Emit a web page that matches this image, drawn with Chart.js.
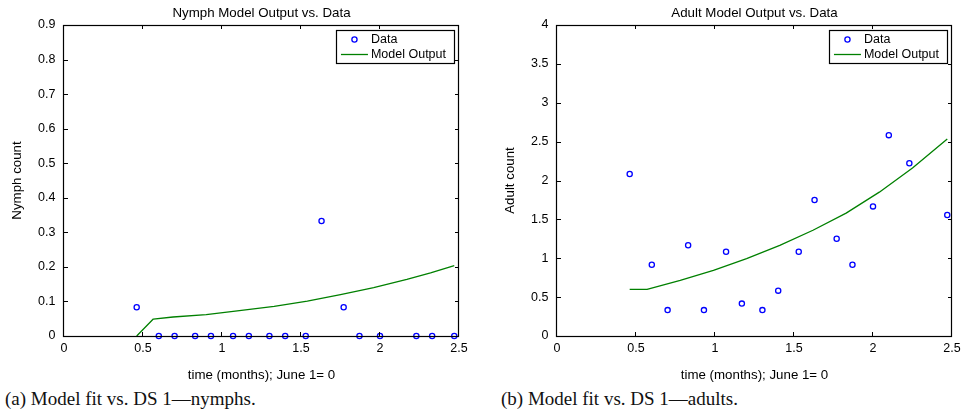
<!DOCTYPE html>
<html>
<head>
<meta charset="utf-8">
<script src="https://cdn.jsdelivr.net/npm/chart.js@4/dist/chart.umd.min.js"></script>
<style>
  html, body { margin: 0; padding: 0; background: #fff; }
  #page { position: relative; width: 965px; height: 417px; overflow: hidden; background: #fff; }
  canvas { position: absolute; top: 0; }
  #c1 { left: 0; }
  #c2 { left: 493px; }
  .cap { position: absolute; top: 388px; font-family: "Liberation Serif", "Times New Roman", serif; font-size: 19px; color: #111; white-space: nowrap; }
</style>
</head>
<body>
<div id="page">
  <canvas id="c1" width="480" height="383"></canvas>
  <canvas id="c2" width="480" height="383"></canvas>
  <div class="cap" style="left:5px">(a) Model fit vs. DS 1—nymphs.</div>
  <div class="cap" style="left:501px">(b) Model fit vs. DS 1—adults.</div>
</div>
<script>
// ---- data ----
const nymphTimes   = [0.46, 0.60, 0.70, 0.83, 0.93, 1.07, 1.17, 1.30, 1.40, 1.53, 1.63, 1.77, 1.87, 2.00, 2.23, 2.33, 2.47];
const nymphCounts  = [0.083, 0, 0, 0, 0, 0, 0, 0, 0, 0, 0.333, 0.083, 0, 0, 0, 0, 0];
const nymphModelT  = [0.46, 0.565, 0.69, 0.90, 1.11, 1.33, 1.54, 1.75, 1.96, 2.17, 2.32, 2.47];
const nymphModelV  = [0, 0.049, 0.055, 0.062, 0.0735, 0.086, 0.101, 0.12, 0.14, 0.164, 0.183, 0.204];

const adultTimes   = [0.46, 0.60, 0.70, 0.83, 0.93, 1.07, 1.17, 1.30, 1.40, 1.53, 1.63, 1.77, 1.87, 2.00, 2.10, 2.23, 2.47];
const adultCounts  = [2.083, 0.917, 0.333, 1.167, 0.333, 1.083, 0.417, 0.333, 0.583, 1.083, 1.75, 1.25, 0.917, 1.667, 2.583, 2.222, 1.556];
const adultModelT  = [0.46, 0.57, 0.78, 0.99, 1.20, 1.41, 1.62, 1.83, 2.04, 2.25, 2.47];
const adultModelV  = [0.6, 0.6, 0.715, 0.844, 0.994, 1.165, 1.36, 1.58, 1.85, 2.16, 2.535];

const xTickValues      = [0, 0.5, 1, 1.5, 2, 2.5];
const nymphYTickValues = [0, 0.1, 0.2, 0.3, 0.4, 0.5, 0.6, 0.7, 0.8, 0.9];
const adultYTickValues = [0, 0.5, 1, 1.5, 2, 2.5, 3, 3.5, 4];

const seriesLabels = ['Data', 'Model Output'];
const xAxisTitle = 'time (months); June 1= 0';
// ---------------------------------------

const FONT = '"Liberation Sans", Arial, Helvetica, sans-serif';

const framePlugin = {
  id: 'frame',
  afterDatasetsDraw(chart, args, opts) {
    const { ctx, chartArea: a, scales: { x, y } } = chart;
    ctx.save();
    ctx.strokeStyle = '#000';
    ctx.lineWidth = 1.2;
    ctx.strokeRect(a.left - 0.5, a.top + 0.5, a.right - a.left, a.bottom - a.top);
    const tl = 4;
    ctx.lineWidth = 1;
    ctx.beginPath();
    x.ticks.forEach(t => {
      const px = Math.round(x.getPixelForValue(t.value)) - 0.5;
      ctx.moveTo(px, a.bottom); ctx.lineTo(px, a.bottom - tl);
      ctx.moveTo(px, a.top); ctx.lineTo(px, a.top + tl);
    });
    y.ticks.forEach(t => {
      const py = Math.round(y.getPixelForValue(t.value)) + 0.5;
      ctx.moveTo(a.left, py); ctx.lineTo(a.left + tl, py);
      ctx.moveTo(a.right, py); ctx.lineTo(a.right - tl, py);
    });
    ctx.stroke();

    // title centred over the plot area
    ctx.fillStyle = '#000';
    ctx.font = '13.3px ' + FONT;
    ctx.textAlign = 'center';
    ctx.textBaseline = 'middle';
    ctx.fillText(opts.title, (a.left + a.right) / 2, a.top - 12);

    // legend box, top-right inside plot area
    ctx.font = '12.5px ' + FONT;
    const ds = chart.data.datasets;
    const tw = Math.max(...ds.map(d => ctx.measureText(d.label).width));
    const bw = 6 + 28 + 4 + tw + 5;
    const bh = 33;
    const bx = a.right - 5 - bw;
    const by = a.top + 5;
    ctx.fillStyle = '#fff';
    ctx.fillRect(bx, by, bw, bh);
    ctx.strokeStyle = '#000';
    ctx.lineWidth = 1.2;
    ctx.strokeRect(Math.round(bx) + 0.5, Math.round(by) + 0.5, Math.round(bw), bh);
    ds.forEach((d, i) => {
      const cy = by + 9.5 + i * 15;
      const sx = bx + 5, ex = bx + 32;
      if (d.showLine === false) {
        ctx.beginPath();
        ctx.strokeStyle = d.borderColor;
        ctx.lineWidth = d.borderWidth;
        ctx.arc((sx + ex) / 2, cy, d.pointRadius, 0, Math.PI * 2);
        ctx.stroke();
      } else {
        ctx.beginPath();
        ctx.strokeStyle = d.borderColor;
        ctx.lineWidth = d.borderWidth;
        ctx.moveTo(sx, cy); ctx.lineTo(ex, cy);
        ctx.stroke();
      }
      ctx.fillStyle = '#000';
      ctx.textAlign = 'left';
      ctx.fillText(d.label, ex + 3, cy + 0.5);
    });
    ctx.restore();
  }
};

function makeChart(id, title, yTitle, times, counts, modelT, modelV, yTicks) {
  const yMax = yTicks[yTicks.length - 1];
  return new Chart(document.getElementById(id), {
    type: 'scatter',
    data: {
      datasets: [
        {
          label: seriesLabels[0],
          data: times.map((t, i) => ({ x: t, y: counts[i] })),
          showLine: false,
          pointStyle: 'circle',
          pointRadius: 2.6,
          borderColor: '#0000ff',
          backgroundColor: 'rgba(0,0,0,0)',
          borderWidth: 1.3,
          clip: false
        },
        {
          label: seriesLabels[1],
          data: modelT.map((t, i) => ({ x: t, y: modelV[i] })),
          showLine: true,
          borderColor: '#008000',
          backgroundColor: '#008000',
          borderWidth: 1.3,
          pointRadius: 0,
          tension: 0,
          borderJoinStyle: 'round',
          fill: false,
          clip: false
        }
      ]
    },
    options: {
      responsive: false,
      animation: false,
      devicePixelRatio: 1,
      layout: { padding: { top: 25, left: 0, right: 21, bottom: 0 } },
      plugins: {
        legend: { display: false },
        title: { display: false },
        tooltip: { enabled: false },
        frame: { title: title }
      },
      scales: {
        x: {
          type: 'linear',
          min: 0, max: 2.5,
          afterBuildTicks: s => { s.ticks = xTickValues.map(v => ({ value: v })); },
          grid: { display: false, drawTicks: false },
          border: { display: false },
          ticks: {
            color: '#000', padding: 5.5, maxRotation: 0, autoSkip: false,
            font: { family: FONT, size: 12.5 },
            callback: v => String(v)
          },
          title: {
            display: true, text: xAxisTitle, color: '#000',
            font: { family: FONT, size: 13.3 },
            padding: { top: 6, bottom: 0 }
          },
          afterFit: s => { s.height = 47; }
        },
        y: {
          type: 'linear',
          min: 0, max: yMax,
          afterBuildTicks: s => { s.ticks = yTicks.map(v => ({ value: v })); },
          grid: { display: false, drawTicks: false },
          border: { display: false },
          ticks: {
            color: '#000', padding: 8.5, autoSkip: false,
            font: { family: FONT, size: 12.5 },
            callback: v => String(v)
          },
          title: {
            display: true, text: yTitle, color: '#000',
            font: { family: FONT, size: 13.3 },
            padding: { top: 9.5, bottom: 0 }
          },
          afterFit: s => { s.width = 64; }
        }
      }
    },
    plugins: [framePlugin]
  });
}

makeChart('c1', 'Nymph Model Output vs. Data', 'Nymph count', nymphTimes, nymphCounts, nymphModelT, nymphModelV, nymphYTickValues);
makeChart('c2', 'Adult Model Output vs. Data', 'Adult count', adultTimes, adultCounts, adultModelT, adultModelV, adultYTickValues);
</script>
</body>
</html>
